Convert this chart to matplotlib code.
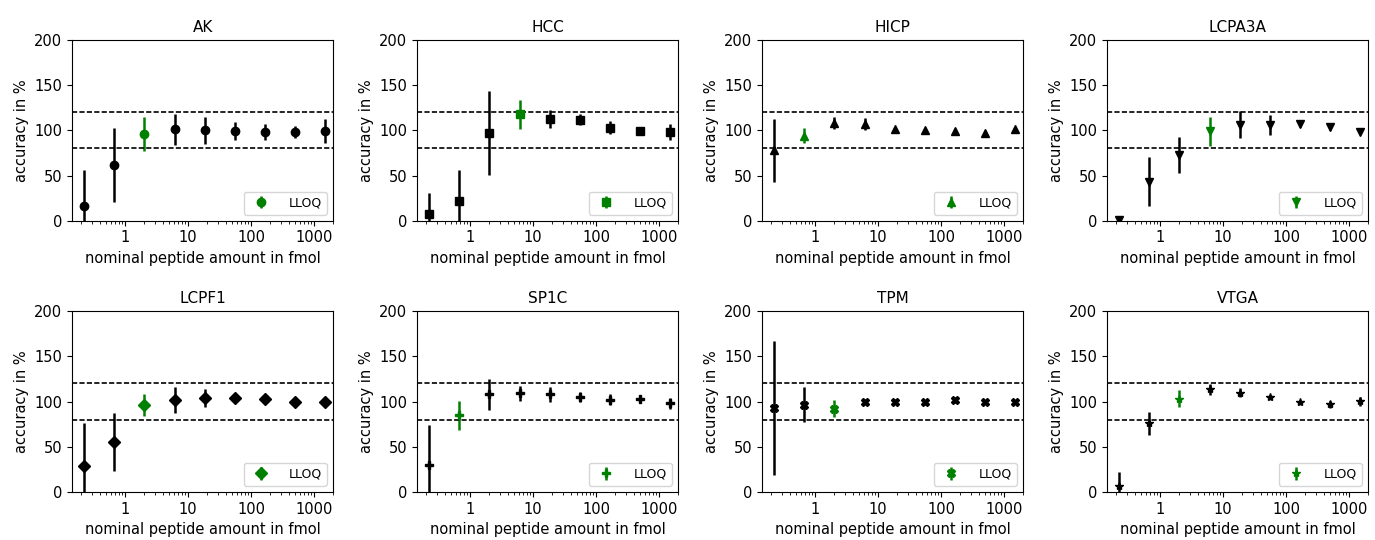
import numpy as np
import matplotlib
matplotlib.use("Agg")
import matplotlib.pyplot as plt

# nominal amounts of the 1:3 dilution series (fmol)
amounts = [0.229, 0.686, 2.06, 6.17, 18.5, 55.6, 166.7, 500.0, 1500.0]

peptides = ["AK", "HCC", "HICP", "LCPA3A", "LCPF1", "SP1C", "TPM", "VTGA"]
markers = ["o", "s", "^", "v", "D", "P", "X", "*"]

# mean accuracy (%) per dilution level
acc_AK = [16, 62, 96, 101, 100, 99, 98, 98, 99]
acc_HCC = [7, 22, 97, 118, 113, 112, 103, 99.5, 98]
acc_HICP = [78, 94, 108, 107, 102, 100.5, 99.5, 97.5, 101]
acc_LCPA3A = [1, 43, 73, 99, 106, 106, 107, 103.5, 98]
acc_LCPF1 = [29, 55, 96, 102, 104, 104, 102.5, 100, 99.5]
acc_SP1C = [30, 85, 108, 109, 108, 105, 102, 103, 98]
acc_TPM = [93, 96.5, 92, 99.5, 100, 99, 101.5, 99.5, 100]
acc_VTGA = [7, 76, 103, 113.5, 110, 105, 99.5, 97, 100.5]

# standard deviation of the accuracy (%)
sd_AK = [40, 41, 19, 17, 15, 10, 9, 6.5, 13.5]
sd_HCC = [24, 34, 46, 16, 10, 6, 7, 2, 9]
sd_HICP = [35, 8.5, 6.5, 7, 2, 1.5, 1.5, 1.5, 2]
sd_LCPA3A = [2, 27, 20, 16, 15, 11, 3, 3, 2]
sd_LCPF1 = [47, 32, 12, 14.5, 10, 3, 2, 2, 2]
sd_SP1C = [44, 16, 17, 8.5, 8, 5.5, 6, 4, 6]
sd_TPM = [74, 19.5, 9.5, 3, 3, 2.5, 3, 2.5, 2]
sd_VTGA = [15, 12.5, 9.5, 6, 5.5, 2, 2.5, 4, 5]

# index of the lower limit of quantification in the series
lloq_index = [2, 3, 1, 3, 2, 1, 2, 2]

accuracies = [acc_AK, acc_HCC, acc_HICP, acc_LCPA3A, acc_LCPF1, acc_SP1C, acc_TPM, acc_VTGA]
deviations = [sd_AK, sd_HCC, sd_HICP, sd_LCPA3A, sd_LCPF1, sd_SP1C, sd_TPM, sd_VTGA]

plt.rcParams["font.size"] = 10.5

fig, axes = plt.subplots(2, 4, figsize=(13.75, 5.4), dpi=100)
fig.subplots_adjust(left=0.0525, right=0.995, top=0.926, bottom=0.089,
                    wspace=0.322, hspace=0.50)

x = np.array(amounts)
for ax, name, mk, acc, sd, li in zip(axes.flat, peptides, markers,
                                     accuracies, deviations, lloq_index):
    acc = np.array(acc, dtype=float)
    sd = np.array(sd, dtype=float)
    rest = np.arange(len(x)) != li
    ax.errorbar(x[rest], acc[rest], yerr=sd[rest], fmt=mk, color="black",
                ms=6, elinewidth=1.8, capsize=0)
    ax.errorbar(x[li], acc[li], yerr=sd[li], fmt=mk, color="green",
                ms=6, elinewidth=1.8, capsize=0, label="LLOQ")
    for level in (80, 120):
        ax.axhline(level, color="black", ls=(0, (3.1, 1.35)), lw=1.2)
    ax.set_xscale("log")
    ax.set_xlim(right=2000)
    ax.set_ylim(0, 200)
    ax.set_yticks([0, 50, 100, 150, 200])
    ax.xaxis.set_major_formatter(matplotlib.ticker.FuncFormatter(
        lambda v, p: f"{v:g}"))
    ax.set_title(name, fontsize=11)
    ax.set_xlabel("nominal peptide amount in fmol")
    ax.set_ylabel("accuracy in %")
    ax.legend(loc="lower right", fontsize=9, handletextpad=1.2)

fig.savefig("out.png", dpi=100)
